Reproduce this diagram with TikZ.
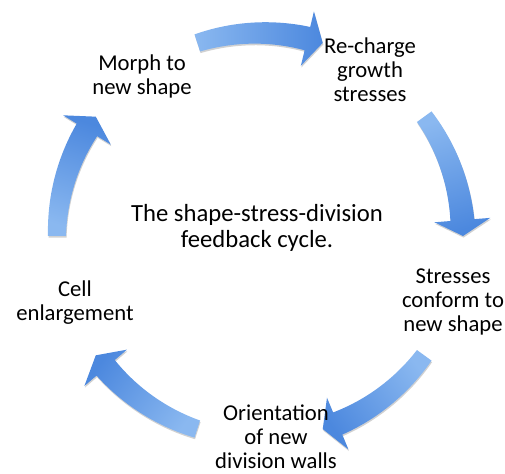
\documentclass[tikz,border=0pt]{standalone}
\usepackage{fontspec}
\setmainfont{Carlito}
\usetikzlibrary{shadows}

\definecolor{arrowlight}{RGB}{138,184,240}
\definecolor{arrowdark}{RGB}{76,136,222}

\tikzset{
  cyclearrow/.style={bottom color=arrowlight, top color=arrowdark, draw=none,
    drop shadow={shadow xshift=0.4pt, shadow yshift=-1.2pt, opacity=0.18, fill=black}},
  steplabel/.style={align=center, font=\fontsize{17}{18}\selectfont},
  titlelabel/.style={align=center, font=\fontsize{18.5}{20}\selectfont}
}

\begin{document}
\begin{tikzpicture}[x=0.75pt,y=0.75pt,yscale=-1,xscale=1]
\useasboundingbox (0,0) rectangle (505,473);
\coordinate (C) at (260,236);

%Curved Arrows
\foreach \k in {0,...,4}{
  \pgfmathsetmacro{\atail}{-108+72*\k}
  \pgfmathsetmacro{\atip}{-72+72*\k}
  \pgfmathsetmacro{\abase}{\atip-4.5}
  \pgfmathsetmacro{\ashade}{-(\atip-18)-180}
  \shade[cyclearrow, shading angle=\ashade, shift={(C)}]
    plot[domain=\atail:\abase, samples=16, smooth] (\x:{212+3*(\x-\atail)/(\abase-\atail)})
    -- (\abase:231) -- (\atip:203) -- (\abase:175)
    -- plot[domain=\abase:\atail, samples=16, smooth] (\x:{194-3*(\x-\atail)/(\abase-\atail)})
    -- cycle;
}

% Text Node
\node[steplabel] (morph) at (142,76) {Morph to\\new shape};
% Text Node
\node[steplabel] (recharge) at (370,70) {Re-charge\\growth\\stresses};
% Text Node
\node[steplabel] (conform) at (453,302) {Stresses\\conform to\\new shape};
% Text Node
\node[steplabel] (orient) at (276,437) {Orientation\\of new\\division walls};
% Text Node
\node[steplabel] (enlarge) at (75,303) {Cell\\enlargement};
% Text Node
\node[titlelabel] (cycle) at (257,228) {The shape-stress-division\\feedback cycle.};

\end{tikzpicture}
\end{document}
